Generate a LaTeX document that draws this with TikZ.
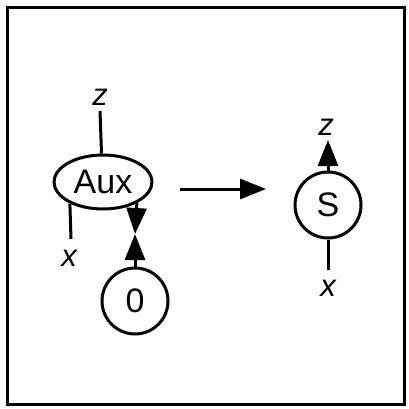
\documentclass[tikz,border=0pt]{standalone}
\usepackage{fontspec}
\setmainfont{Liberation Sans}
\usetikzlibrary{arrows.meta,shapes.geometric}
\tikzset{
  ln/.style={line width=3pt},
  circ/.style={circle,draw,line width=3pt,minimum size=66pt,inner sep=0pt,font=\fontsize{34}{36}\selectfont},
  ell/.style={ellipse,draw,line width=3pt,minimum width=98pt,minimum height=54pt,inner sep=0pt,font=\fontsize{34}{36}\selectfont},
  lbl/.style={inner sep=0pt,font=\fontsize{31}{33}\selectfont\itshape},
  tip/.style={-{Triangle[length=26pt,width=20pt]}}
}
\begin{document}
\begin{tikzpicture}[x=1pt,y=-1pt]
\useasboundingbox (0,0) rectangle (409,409);
\draw[line width=3pt] (7,8) rectangle (404,404);
% left graph
\node[ell] (aux) at (103,182) {Aux};
\node[circ] (zero) at (135,301) {0};
\node[lbl] (z1) at (100,97) {z};
\node[lbl] (x1) at (69,258) {x};
\coordinate (z1e) at (100,111);
\coordinate (x1e) at (71,239);
\coordinate (mid) at (135,234);
\draw[ln] (z1e) -- (aux.93);
\draw[ln] (aux.-147.5) -- (x1e);
\draw[ln,tip] (aux.-32.5) -- (mid);
\draw[ln,tip] (zero) -- (mid);
% main arrow
\coordinate (a1) at (180,189);
\coordinate (a2) at (266,189);
\draw[ln,tip] (a1) -- (a2);
% right graph
\node[circ] (s) at (328,205) {S};
\node[lbl] (z2) at (326,127) {z};
\node[lbl] (x2) at (328,288) {x};
\coordinate (z2e) at (328,140);
\coordinate (x2e) at (328,270);
\draw[ln,tip] (s) -- (z2e);
\draw[ln] (s) -- (x2e);
\end{tikzpicture}
\end{document}
